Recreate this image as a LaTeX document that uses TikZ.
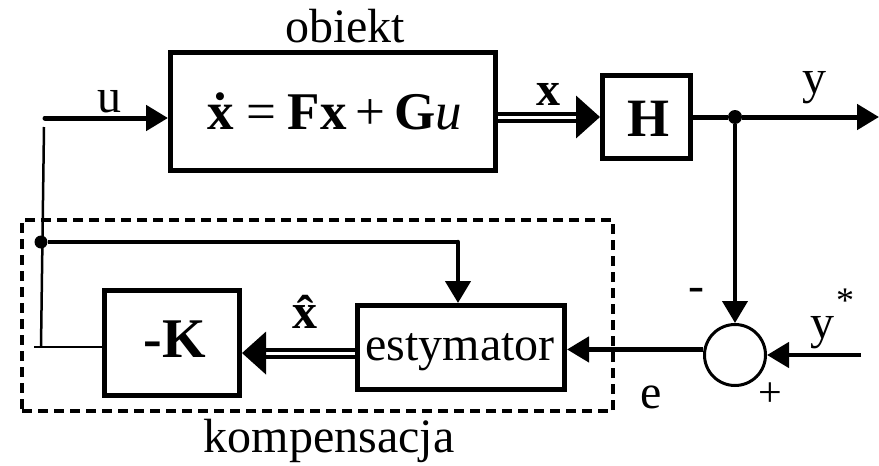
\documentclass[tikz,border=0pt]{standalone}
\usepackage{fontspec}
\setmainfont{Liberation Serif}
\usetikzlibrary{arrows.meta}
\begin{document}
\begin{tikzpicture}[x=1pt,y=-1pt,
  box/.style={draw,line width=5pt,inner sep=0pt},
  lbl/.style={anchor=base,inner sep=0pt,font=\fontsize{48}{52}\selectfont},
  sarr/.style={line width=5pt,-{Triangle[length=22pt,width=25pt]}},
  darr/.style={double,double distance=3pt,line width=4pt,-{Triangle[length=24pt,width=42pt]}},
  thinl/.style={line width=2.5pt},
  junc/.style={circle,fill,inner sep=0pt,minimum size=14pt}]
\useasboundingbox (0,0) rectangle (879,466);
% frame of compensation
\node[draw,line width=3.5pt,dash pattern=on 10pt off 6pt,minimum width=591pt,minimum height=191pt,inner sep=0pt] (komp) at (317.5,315.5) {};
% blocks
\node[box,minimum width=325pt,minimum height=118pt] (obj) at (333,111.5) {};
\node[box,minimum width=88pt,minimum height=83pt] (H) at (646.5,117) {};
\node[box,minimum width=135pt,minimum height=105pt] (K) at (172,343) {};
\node[box,minimum width=207pt,minimum height=84pt] (est) at (461,347.5) {};
\node[draw,circle,line width=3pt,minimum size=61pt,inner sep=0pt] (sum) at (735,355) {};
% texts in blocks
\node[lbl,font=\fontsize{53}{57}\selectfont] (eq) at (335,129) {\textbf{\.x}\hspace{12pt}=\hspace{12pt}\textbf{Fx}\hspace{9pt}+\hspace{9pt}\textbf{G}\textit{u}};
\node[lbl,font=\bfseries\fontsize{54}{58}\selectfont] (Ht) at (648,136) {H};
\node[lbl,font=\bfseries\fontsize{56}{60}\selectfont] (Kt) at (175,357) {-K};
\node[lbl] (estt) at (460,360) {estymator};
% labels
\node[lbl] (obl) at (345,42) {obiekt};
\node[lbl] (kompl) at (329,452) {kompensacja};
\node[lbl] (ul) at (109,112) {u};
\node[lbl,font=\bfseries\fontsize{48}{52}\selectfont] (xl) at (548,105) {x};
\node[lbl] (yl) at (814,93) {y};
\node[lbl,font=\bfseries\fontsize{50}{54}\selectfont] (xhl) at (305,328) {\^x};
\node[lbl] (minl) at (696,301) {-};
\node[lbl] (ysl) at (822,338) {y};
\node[lbl,font=\fontsize{36}{40}\selectfont] (star) at (845,312) {*};
\node[lbl,font=\fontsize{42}{46}\selectfont] (plusl) at (770,406) {+};
\node[lbl] (el) at (651,408) {e};
% junctions
\node[junc] (j1) at (735,117) {};
\node[junc,minimum size=13pt] (j2) at (41,242) {};
\coordinate (uS) at (45,118);
\coordinate (yend) at (879,117);
\coordinate (ys) at (861,355);
\coordinate (kl) at (34,347);
\coordinate (vb) at (41,347);
\coordinate (vt) at (44,127);
\coordinate (ec) at (458,242);
% connectors
\draw[sarr,line cap=round] (uS) -- (uS -| obj.west);
\draw[darr] (obj.east |- H.west) -- (H.west);
\draw[line width=5pt] (H.east) -- (j1);
\draw[sarr] (j1) -- (yend);
\draw[sarr,line width=4pt] (j1) -- (sum.north);
\draw[sarr,line width=4.5pt] (ys) -- (sum.east);
\draw[sarr,line width=4.5pt] (sum.170) -- (sum.170 -| est.east);
\draw[darr] (est.183) -- (est.183 -| K.east);
\draw[thinl] (kl) -- (kl -| K.west);
\draw[thinl] (vb) -- (vt);
\draw[line width=4.5pt] (j2) -- (ec);
\draw[sarr,line width=4.5pt,line cap=round] (ec) -- (ec |- est.north);
\end{tikzpicture}
\end{document}
